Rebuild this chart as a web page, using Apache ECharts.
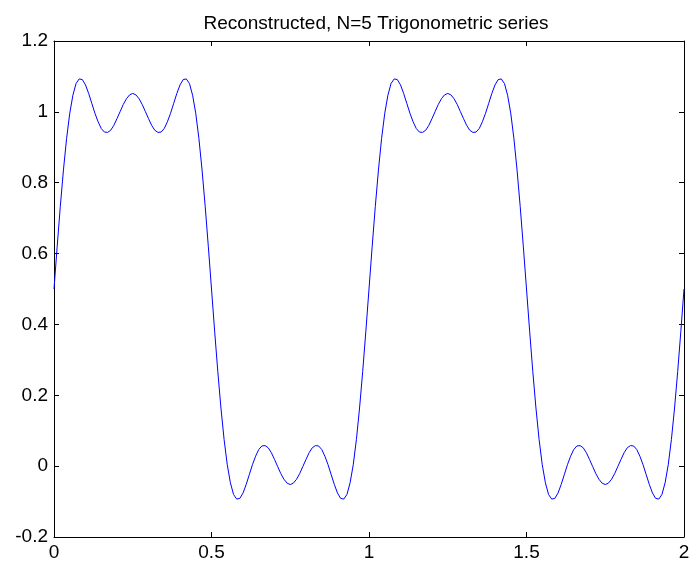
<!DOCTYPE html>
<html>
<head>
<meta charset="utf-8">
<script src="https://cdn.jsdelivr.net/npm/echarts@6/dist/echarts.min.js"></script>
<style>html,body{margin:0;padding:0;background:#fff}#c{width:698px;height:568px}</style>
</head>
<body>
<div id="c"></div>
<script>
const titleText = 'Reconstructed, N=5 Trigonometric series';
const xTicks = [0, 0.5, 1, 1.5, 2];
const yTicks = [-0.2, 0, 0.2, 0.4, 0.6, 0.8, 1, 1.2];
const xValues = [
0,0.01,0.02,0.03,0.04,0.05,0.06,0.07,0.08,0.09,0.10,0.11,0.12,0.13,0.14,0.15,0.16,0.17,0.18,0.19,0.20,0.21,0.22,0.23,0.24,0.25,0.26,0.27,0.28,0.29,0.30,0.31,0.32,0.33,0.34,0.35,0.36,0.37,0.38,0.39,0.40,0.41,0.42,0.43,0.44,0.45,0.46,0.47,0.48,0.49,0.50,
0.51,0.52,0.53,0.54,0.55,0.56,0.57,0.58,0.59,0.60,0.61,0.62,0.63,0.64,0.65,0.66,0.67,0.68,0.69,0.70,0.71,0.72,0.73,0.74,0.75,0.76,0.77,0.78,0.79,0.80,0.81,0.82,0.83,0.84,0.85,0.86,0.87,0.88,0.89,0.90,0.91,0.92,0.93,0.94,0.95,0.96,0.97,0.98,0.99,1.00,
1.01,1.02,1.03,1.04,1.05,1.06,1.07,1.08,1.09,1.10,1.11,1.12,1.13,1.14,1.15,1.16,1.17,1.18,1.19,1.20,1.21,1.22,1.23,1.24,1.25,1.26,1.27,1.28,1.29,1.30,1.31,1.32,1.33,1.34,1.35,1.36,1.37,1.38,1.39,1.40,1.41,1.42,1.43,1.44,1.45,1.46,1.47,1.48,1.49,1.50,
1.51,1.52,1.53,1.54,1.55,1.56,1.57,1.58,1.59,1.60,1.61,1.62,1.63,1.64,1.65,1.66,1.67,1.68,1.69,1.70,1.71,1.72,1.73,1.74,1.75,1.76,1.77,1.78,1.79,1.80,1.81,1.82,1.83,1.84,1.85,1.86,1.87,1.88,1.89,1.90,1.91,1.92,1.93,1.94,1.95,1.96,1.97,1.98,1.99,2.00
];
const yValues = [
0.500,0.619,0.733,0.836,0.925,0.996,1.047,1.080,1.093,1.091,1.076,1.052,1.024,0.996,0.972,0.953,0.943,0.942,0.948,0.962,0.981,1.001,1.021,1.037,1.048,1.052,
1.048,1.037,1.021,1.001,0.981,0.962,0.948,0.942,0.943,0.953,0.972,0.996,1.024,1.052,1.076,1.091,1.093,1.080,1.047,0.996,0.925,0.836,0.733,0.619,0.500,
0.381,0.267,0.164,0.075,0.004,-0.047,-0.080,-0.093,-0.091,-0.076,-0.052,-0.024,0.004,0.028,0.047,0.057,0.058,0.052,0.038,0.019,-0.001,-0.021,-0.037,-0.048,-0.052,
-0.048,-0.037,-0.021,-0.001,0.019,0.038,0.052,0.058,0.057,0.047,0.028,0.004,-0.024,-0.052,-0.076,-0.091,-0.093,-0.080,-0.047,0.004,0.075,0.164,0.267,0.381,0.500,
0.619,0.733,0.836,0.925,0.996,1.047,1.080,1.093,1.091,1.076,1.052,1.024,0.996,0.972,0.953,0.943,0.942,0.948,0.962,0.981,1.001,1.021,1.037,1.048,1.052,
1.048,1.037,1.021,1.001,0.981,0.962,0.948,0.942,0.943,0.953,0.972,0.996,1.024,1.052,1.076,1.091,1.093,1.080,1.047,0.996,0.925,0.836,0.733,0.619,0.500,
0.381,0.267,0.164,0.075,0.004,-0.047,-0.080,-0.093,-0.091,-0.076,-0.052,-0.024,0.004,0.028,0.047,0.057,0.058,0.052,0.038,0.019,-0.001,-0.021,-0.037,-0.048,-0.052,
-0.048,-0.037,-0.021,-0.001,0.019,0.038,0.052,0.058,0.057,0.047,0.028,0.004,-0.024,-0.052,-0.076,-0.091,-0.093,-0.080,-0.047,0.004,0.075,0.164,0.267,0.381,0.500
];

const seriesData = xValues.map((x, i) => [x, yValues[i]]);
const font = 'Liberation Sans, Arial, sans-serif';
const xMin = xTicks[0], xMax = xTicks[xTicks.length - 1], xInt = xTicks[1] - xTicks[0];
const yMin = yTicks[0], yMax = yTicks[yTicks.length - 1], yInt = 0.2;

const axisLine = { show: true, onZero: false, lineStyle: { color: '#000', width: 1 } };
const axisTick = { show: true, inside: true, length: 5, lineStyle: { color: '#000', width: 1 } };

const chart = echarts.init(document.getElementById('c'), null, { renderer: 'canvas' });
chart.setOption({
  animation: false,
  backgroundColor: '#fff',
  title: {
    text: titleText, left: 371, top: 9, textAlign: 'center',
    textStyle: { fontFamily: font, fontSize: 19, fontWeight: 'normal', color: '#000' }
  },
  grid: { left: 54, right: 14, top: 41, bottom: 31, containLabel: false },
  xAxis: [
    { type: 'value', position: 'bottom', min: xMin, max: xMax, interval: xInt,
      axisLine, axisTick, splitLine: { show: false },
      axisLabel: { color: '#000', fontFamily: font, fontSize: 19, margin: 6 } },
    { type: 'value', position: 'top', min: xMin, max: xMax, interval: xInt,
      axisLine, axisTick, splitLine: { show: false }, axisLabel: { show: false } }
  ],
  yAxis: [
    { type: 'value', position: 'left', min: yMin, max: yMax, interval: yInt,
      axisLine, axisTick, splitLine: { show: false },
      axisLabel: { color: '#000', fontFamily: font, fontSize: 19, margin: 6,
        formatter: v => String(Math.round(v * 10) / 10) } },
    { type: 'value', position: 'right', min: yMin, max: yMax, interval: yInt,
      axisLine, axisTick, splitLine: { show: false }, axisLabel: { show: false } }
  ],
  series: [{
    type: 'line', data: seriesData, xAxisIndex: 0, yAxisIndex: 0,
    showSymbol: false, smooth: false,
    lineStyle: { color: '#0000ff', width: 1 }
  }]
});
</script>
</body>
</html>
